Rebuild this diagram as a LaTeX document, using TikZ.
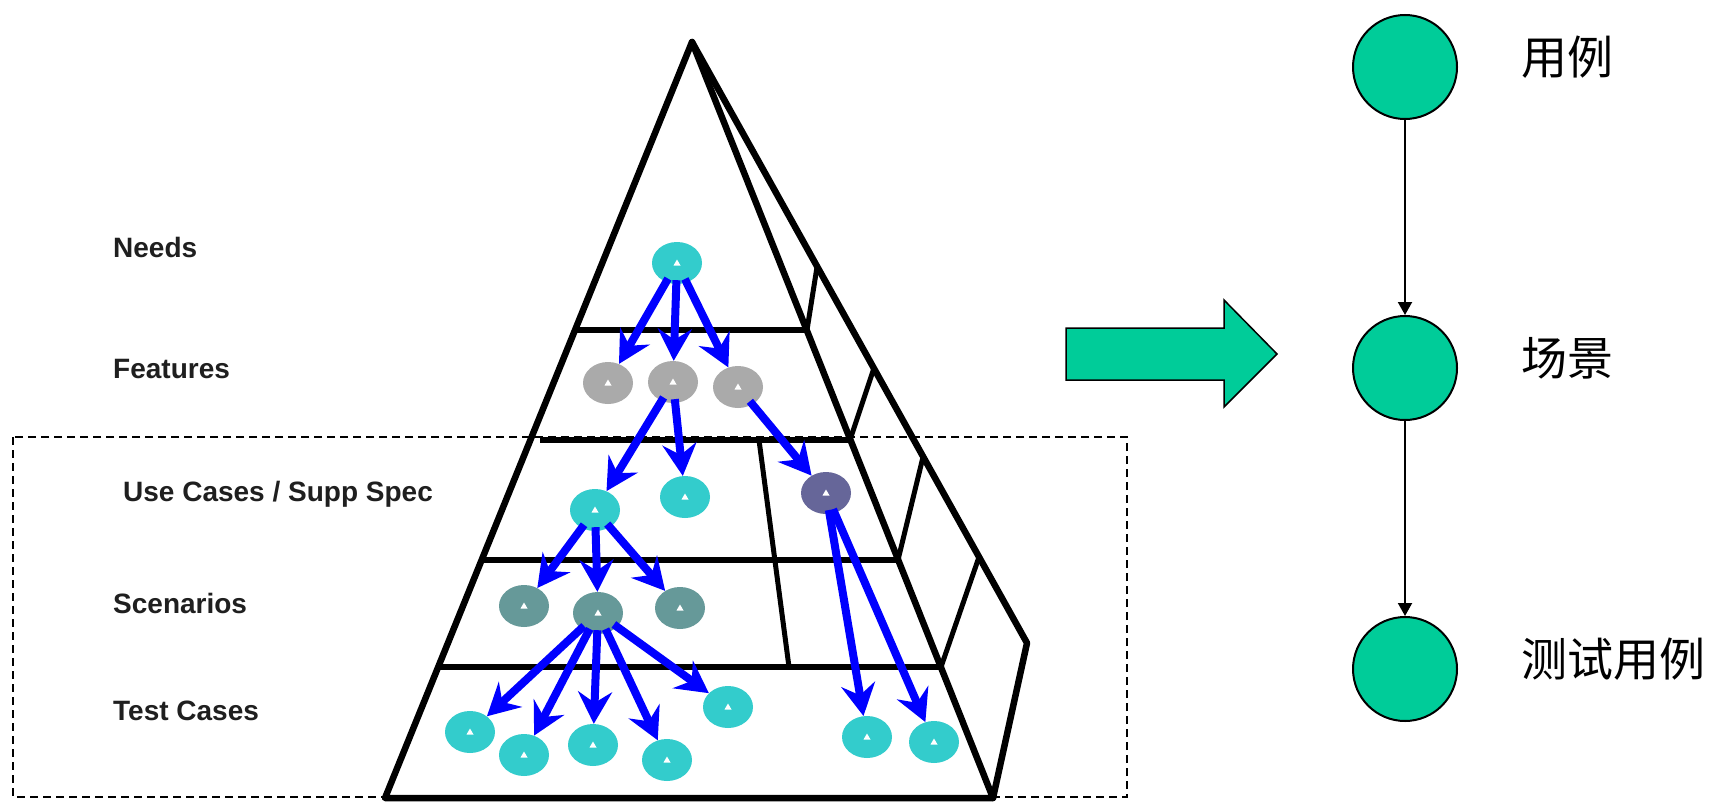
\documentclass[tikz,border=0pt]{standalone}
\usepackage{fontspec}
\setmainfont{Liberation Sans}
\newfontfamily\cjk{Noto Sans CJK SC}
\usetikzlibrary{arrows.meta,shapes.geometric}
\definecolor{tealfill}{RGB}{0,204,153}
\definecolor{nodecyan}{RGB}{51,204,204}
\definecolor{nodegray}{RGB}{170,170,170}
\definecolor{nodeslate}{RGB}{102,153,153}
\definecolor{nodeviolet}{RGB}{102,102,153}
\definecolor{arrowblue}{RGB}{0,0,255}
\begin{document}
\begin{tikzpicture}[x=1pt,y=-1pt,
  pedge/.style={line width=6.5pt, line join=round, line cap=round},
  plevel/.style={line width=5.5pt},
  pdiv/.style={line width=5pt, line cap=round},
  dot/.style={ellipse, minimum width=50pt, minimum height=42pt, inner sep=0pt, fill=#1,
    path picture={\fill[white] ([xshift=-3.5pt,yshift=-2.5pt]path picture bounding box.center) -- ++(7pt,0pt) -- ++(-3.5pt,6pt) -- cycle;}},
  barrow/.style={draw=arrowblue, line width=8pt, -{Stealth[length=32pt,width=34pt,inset=11pt]}, shorten <=-4pt},
  lbl/.style={font=\bfseries\fontsize{28}{30}\selectfont, anchor=base west, inner sep=0pt, text=black!88},
  bigc/.style={circle, draw=black, line width=2pt, fill=tealfill, minimum size=104pt, inner sep=0pt},
  thinarrow/.style={draw=black, line width=2pt, -{Triangle[length=13pt,width=14pt]}},
  cjklbl/.style={font=\cjk\fontsize{46}{50}\selectfont, anchor=west, inner sep=0pt},
  dashbox/.style={draw=black, line width=1.5pt, dash pattern=on 8pt off 5pt}
]
\useasboundingbox (0,0) rectangle (1715,803);
\fill[white] (0,0) rectangle (1715,803);

% dashed frame
\draw[dashbox] (13,437) rectangle (1127,797);

% pyramid
\coordinate (A) at (692,42);
\coordinate (BL) at (385,798);
\coordinate (BR) at (993,798);
\coordinate (BK) at (1027,643);
\draw[pedge] (BR) -- (BL) -- (A) -- (BR);
\draw[pedge] (A) -- (BK) -- (BR);
% level lines
\draw[plevel] (575,330) -- (807,330);
\draw[plevel] (540,440) -- (850,440);
\draw[plevel] (482,560) -- (898,560);
\draw[plevel] (438,667) -- (941,667);
% side face dividers
\draw[pdiv] (807,330) -- (817,267);
\draw[pdiv] (850,440) -- (874,368);
\draw[pdiv] (898,560) -- (923,457);
\draw[pdiv] (941,667) -- (979,557);
% inner vertical
\draw[pdiv] (759,440) -- (789,667);

% level labels
\node[lbl] (lneeds) at (113,257) {Needs};
\node[lbl] (lfeat) at (113,378) {Features};
\node[lbl] (luc) at (123,501) {Use Cases / Supp Spec};
\node[lbl] (lscen) at (113,613) {Scenarios};
\node[lbl] (ltc) at (113,720) {Test Cases};

% small nodes
\node[dot=nodecyan] (n0) at (677,263) {};
\node[dot=nodegray] (f1) at (608,383) {};
\node[dot=nodegray] (f2) at (673,382) {};
\node[dot=nodegray] (f3) at (738,387) {};
\node[dot=nodecyan] (u1) at (595,510) {};
\node[dot=nodecyan] (u2) at (685,497) {};
\node[dot=nodeviolet] (u3) at (826,493) {};
\node[dot=nodeslate] (s1) at (524,606) {};
\node[dot=nodeslate] (s2) at (598,613) {};
\node[dot=nodeslate] (s3) at (680,608) {};
\node[dot=nodecyan] (t1) at (470,732) {};
\node[dot=nodecyan] (t2) at (524,755) {};
\node[dot=nodecyan] (t3) at (593,745) {};
\node[dot=nodecyan] (t4) at (667,760) {};
\node[dot=nodecyan] (t5) at (728,707) {};
\node[dot=nodecyan] (t6) at (867,737) {};
\node[dot=nodecyan] (t7) at (934,742) {};

% blue arrows
\draw[barrow] (n0) -- (f1);
\draw[barrow] (n0) -- (f2);
\draw[barrow] (n0) -- (f3);
\draw[barrow] (f2) -- (u1);
\draw[barrow] (f2) -- (u2);
\draw[barrow] (f3) -- (u3);
\draw[barrow] (u1) -- (s1);
\draw[barrow] (u1) -- (s2);
\draw[barrow] (u1) -- (s3);
\draw[barrow] (s2) -- (t1);
\draw[barrow] (s2) -- (t2);
\draw[barrow] (s2) -- (t3);
\draw[barrow] (s2) -- (t4);
\draw[barrow] (s2) -- (t5);
\draw[barrow] (u3) -- (t6);
\draw[barrow] (u3) -- (t7);

% block arrow
\draw[fill=tealfill, line width=1.5pt, line join=miter]
  (1066,328) -- (1224,328) -- (1224,300) -- (1277,354) -- (1224,407) -- (1224,380) -- (1066,380) -- cycle;

% right chain
\node[bigc] (c1) at (1405,67) {};
\node[bigc] (c2) at (1405,368) {};
\node[bigc] (c3) at (1405,669) {};
\draw[thinarrow] (c1) -- (c2);
\draw[thinarrow] (c2) -- (c3);
\node[cjklbl] (k1) at (1521,57) {用例};
\node[cjklbl] (k2) at (1521,358) {场景};
\node[cjklbl] (k3) at (1521,659) {测试用例};
\end{tikzpicture}
\end{document}
